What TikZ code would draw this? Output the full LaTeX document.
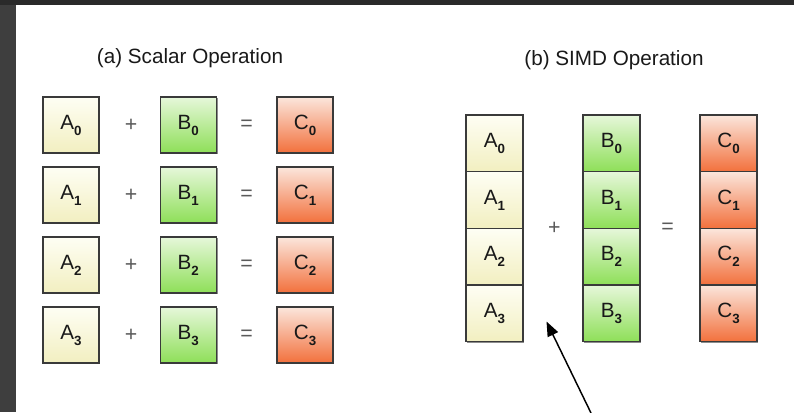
\documentclass[tikz,border=0pt]{standalone}
\usepackage{fontspec}
\setmainfont{Liberation Sans}
\usetikzlibrary{arrows.meta,shadows}
\definecolor{frame}{HTML}{3E3E3E}
\definecolor{frametop}{HTML}{2A2A2A}
\definecolor{edge}{HTML}{3A3A3A}
\definecolor{atop}{HTML}{FEFEF4}
\definecolor{abot}{HTML}{F2EFC0}
\definecolor{btop}{HTML}{E6F7DA}
\definecolor{bbot}{HTML}{8EDF58}
\definecolor{ctop}{HTML}{FBE6DC}
\definecolor{cbot}{HTML}{F2703C}
\definecolor{optext}{HTML}{5A5A5A}
\newcommand\lbl[2]{#1\raisebox{-4.5pt}{\fontsize{10}{10}\selectfont\bfseries #2}}
\tikzset{
  cellbox/.style={draw=edge, line width=0.9pt, inner sep=0pt, text=black!90,
    font=\fontsize{15.5}{16}\selectfont,
    drop shadow={shadow xshift=1.1pt, shadow yshift=-1.1pt, opacity=0.45, fill=black}},
  sq/.style={cellbox, minimum width=42pt, minimum height=42pt},
  tall/.style={cellbox, minimum width=42.75pt, minimum height=42.5pt},
  acol/.style={top color=atop, bottom color=abot},
  bcol/.style={top color=btop, bottom color=bbot},
  ccol/.style={top color=ctop, bottom color=cbot},
  optxt/.style={text=optext, font=\fontsize{16}{17}\selectfont, inner sep=0pt},
  title/.style={text=black!90, font=\fontsize{15.5}{17}\selectfont, inner sep=0pt},
  pointer/.style={line width=1.1pt, -{Triangle[length=11pt,width=8.5pt]}}
}
\begin{document}
\begin{tikzpicture}[x=0.75pt,y=-0.75pt]
\useasboundingbox (0,0) rectangle (794,412);
\fill[frame] (0,0) rectangle (794,412);
\fill[frametop] (0,0) rectangle (794,5);
\fill[white] (16,5) rectangle (794,412);

% titles
\node[title] (ta) at (190,58) {(a) Scalar Operation};
\node[title] (tb) at (614,60) {(b) SIMD Operation};

% scalar rows
\foreach \i/\y in {0/125,1/195,2/265,3/335}{
  \node[sq,acol] (sa\i) at (71,\y) {\lbl{A}{\i}};
  \node[sq,bcol] (sb\i) at (188.3,\y) {\lbl{B}{\i}};
  \node[sq,ccol] (sc\i) at (305,\y) {\lbl{C}{\i}};
  \node[optxt] (sp\i) at (131,\y) {+};
  \node[optxt] (se\i) at (246.7,\y) {=};
}

% SIMD columns
\foreach \i/\y in {0/143.3,1/200,2/256.7,3/313.3}{
  \node[tall,acol] (va\i) at (494.5,\y) {\lbl{A}{\i}};
  \node[tall,bcol] (vb\i) at (611.5,\y) {\lbl{B}{\i}};
  \node[tall,ccol] (vc\i) at (728.5,\y) {\lbl{C}{\i}};
}
\node[optxt] (vp) at (554.3,228) {+};
\node[optxt] (ve) at (667.7,228) {=};

% arrow
\coordinate (tail) at (591,413);
\coordinate (tip) at (546.5,321.5);
\draw[pointer] (tail) -- (tip);
\end{tikzpicture}
\end{document}
